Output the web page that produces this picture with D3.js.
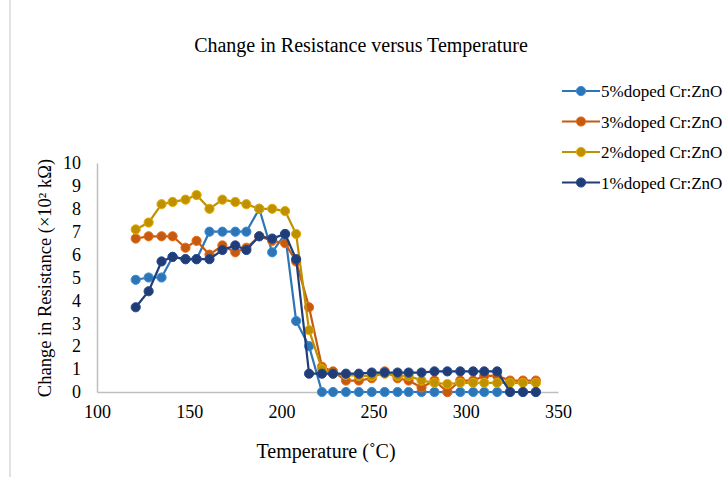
<!DOCTYPE html>
<html>
<head>
<meta charset="utf-8">
<script src="https://cdn.jsdelivr.net/npm/d3@7/dist/d3.min.js"></script>
<style>
  body { margin: 0; background: #fff; }
  svg { display: block; font-family: "Liberation Serif", "Times New Roman", serif; }
</style>
</head>
<body>
<div id="chart"></div>
<script>
// Temperature (°C) of each measurement.
var temps = [121, 128, 135, 141, 148, 154, 161, 168, 175, 181, 188, 195, 202, 208, 215, 222, 228,
             235, 242, 249, 256, 263, 269, 276, 283, 290, 297, 304, 310, 317, 324, 331, 338];

// Change in resistance (x10^2 kOhm), one array per doping level.
var doped5 = [4.9, 5.0, 5.0, 5.9, 5.8, 5.8, 7.0, 7.0, 7.0, 7.0, 8.0, 6.1, 6.9, 3.1, 2.0, 0, 0,
              0, 0, 0, 0, 0, 0, 0, 0, 0, 0, 0, 0, 0, 0, 0, 0];
var doped3 = [6.7, 6.8, 6.8, 6.8, 6.3, 6.6, 6.0, 6.4, 6.1, 6.3, 6.8, 6.6, 6.5, 5.7, 3.7, 1.1, 0.9,
              0.5, 0.5, 0.6, 0.9, 0.6, 0.5, 0.2, 0.5, 0, 0.5, 0.5, 0.7, 0.7, 0.5, 0.5, 0.5];
var doped2 = [7.1, 7.4, 8.2, 8.3, 8.4, 8.6, 8.0, 8.4, 8.3, 8.2, 8.0, 8.0, 7.9, 6.9, 2.7, 1.0, 0.8,
              0.75, 0.7, 0.7, 0.8, 0.7, 0.7, 0.5, 0.4, 0.35, 0.4, 0.4, 0.4, 0.4, 0.4, 0.4, 0.4];
var doped1 = [3.7, 4.4, 5.7, 5.9, 5.8, 5.8, 5.8, 6.2, 6.4, 6.2, 6.8, 6.7, 6.9, 5.8, 0.8, 0.8, 0.8,
              0.8, 0.8, 0.85, 0.85, 0.85, 0.85, 0.85, 0.9, 0.9, 0.9, 0.9, 0.9, 0.9, 0, 0, 0];

var seriesNames = ["5%doped Cr:ZnO", "3%doped Cr:ZnO", "2%doped Cr:ZnO", "1%doped Cr:ZnO"];
var seriesValues = [doped5, doped3, doped2, doped1];
var seriesColors = ["#2E75B6", "#C55A11", "#BF9000", "#203D78"];

var xTicks = [100, 150, 200, 250, 300, 350];
var yTicks = [0, 1, 2, 3, 4, 5, 6, 7, 8, 9, 10];

var width = 728, height = 477;

var svg = d3.select("#chart").append("svg")
    .attr("width", width)
    .attr("height", height);

// Frame edge on the left.
svg.append("line")
    .attr("x1", 10).attr("x2", 10)
    .attr("y1", 0).attr("y2", height)
    .attr("stroke", "#d9d9d9")
    .attr("stroke-width", 1.5);

var x = d3.scaleLinear().domain([100, 350]).range([97, 558]);
var y = d3.scaleLinear().domain([0, 10]).range([392, 163]);

// Axes: plain grey lines, no tick marks.
var xAxis = svg.append("g")
    .attr("transform", "translate(0," + y(0) + ")")
    .call(d3.axisBottom(x).tickValues(xTicks).tickSize(0).tickPadding(13));
var yAxis = svg.append("g")
    .attr("transform", "translate(" + x(100) + ",0)")
    .call(d3.axisLeft(y).tickValues(yTicks).tickSize(0).tickPadding(16));

[xAxis, yAxis].forEach(function(a) {
    a.select(".domain").attr("stroke", "#bfbfbf").attr("stroke-width", 1.5);
    a.selectAll("text")
        .attr("fill", "#000")
        .style("font-family", "'Liberation Serif', serif")
        .style("font-size", "18px");
});

// Series, drawn in legend order.
var line = d3.line()
    .x(function(d) { return x(d.t); })
    .y(function(d) { return y(d.v); });

seriesValues.forEach(function(vals, i) {
    var pts = temps.map(function(t, j) { return { t: t, v: vals[j] }; });
    var g = svg.append("g");
    g.append("path")
        .datum(pts)
        .attr("d", line)
        .attr("fill", "none")
        .attr("stroke", seriesColors[i])
        .attr("stroke-width", 2.2);
    g.selectAll("circle")
        .data(pts)
        .enter().append("circle")
        .attr("cx", function(d) { return x(d.t); })
        .attr("cy", function(d) { return y(d.v); })
        .attr("r", 4.6)
        .attr("fill", seriesColors[i])
        .attr("stroke", d3.color(seriesColors[i]).brighter(0.5))
        .attr("stroke-width", 1);
});

// Title
svg.append("text")
    .attr("x", 361).attr("y", 52)
    .attr("text-anchor", "middle")
    .style("font-size", "20px")
    .text("Change in Resistance versus Temperature");

// Axis titles
svg.append("text")
    .attr("x", 326).attr("y", 458)
    .attr("text-anchor", "middle")
    .style("font-size", "20px")
    .text("Temperature (˚C)");

svg.append("text")
    .attr("transform", "translate(51,278) rotate(-90)")
    .attr("text-anchor", "middle")
    .style("font-size", "18.5px")
    .text("Change in Resistance (×10² kΩ)");

// Legend
var legend = svg.append("g");
seriesNames.forEach(function(name, i) {
    var ly = 91 + i * 30.5;
    var row = legend.append("g").attr("transform", "translate(0," + ly + ")");
    row.append("line")
        .attr("x1", 562).attr("x2", 600)
        .attr("stroke", seriesColors[i])
        .attr("stroke-width", 2.2);
    row.append("circle")
        .attr("cx", 581).attr("r", 4.6)
        .attr("fill", seriesColors[i])
        .attr("stroke", d3.color(seriesColors[i]).brighter(0.5));
    row.append("text")
        .attr("x", 601).attr("y", 6)
        .style("font-size", "17px")
        .text(name);
});
</script>
</body>
</html>
